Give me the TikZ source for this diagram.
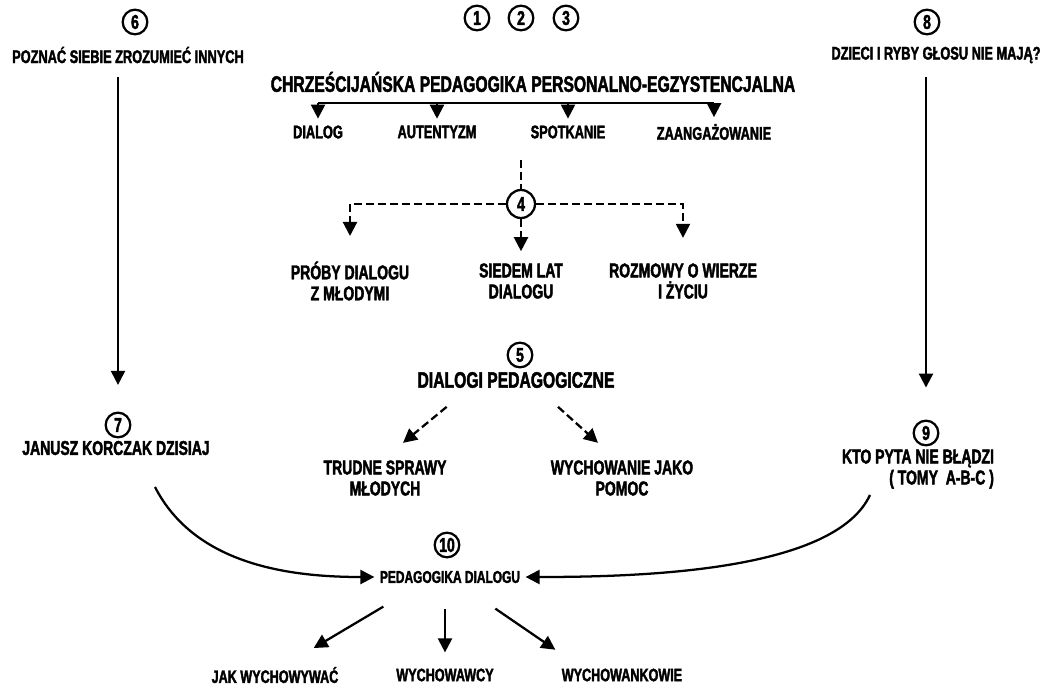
\documentclass[tikz,border=0pt]{standalone}
\usepackage{fontspec}
\setmainfont[FakeStretch=0.7,FakeBold=2]{Liberation Sans}
\usetikzlibrary{arrows.meta}

\begin{document}
\begin{tikzpicture}[x=0.75pt, y=-0.75pt, line width=1.7pt,
  num/.style={circle, draw, line width=1.7pt, minimum size=18.5pt, inner sep=0pt,
    font=\fontsize{15}{15}\selectfont\bfseries},
  big/.style={font=\fontsize{16.8}{17}\selectfont\bfseries, align=center},
  mid/.style={font=\fontsize{15}{15.75}\selectfont\bfseries, align=center},
  sml/.style={font=\fontsize{13.7}{14}\selectfont\bfseries, align=center},
  low/.style={font=\fontsize{13.5}{14}\selectfont\bfseries, align=center},
  arr/.style={-{Triangle[width=10.5pt,length=10.5pt]}},
  dsh/.style={dash pattern=on 6pt off 3pt}]
\useasboundingbox (0,0) rectangle (1046,690);

\node[num] (c1) at (477,18) {1};
\node[num] (c2) at (521,18) {2};
\node[num] (c3) at (566,18) {3};
\node[big] (title) at (533,82) {CHRZEŚCIJAŃSKA PEDAGOGIKA PERSONALNO-EGZYSTENCJALNA};
\node[sml] (dialog) at (318,132) {DIALOG};
\node[sml] (autent) at (437,132) {AUTENTYZM};
\node[sml] (spotk) at (568,132) {SPOTKANIE};
\node[sml] (zaang) at (714,132) {ZAANGAŻOWANIE};
\coordinate (bar) at (316,103);
\draw (dialog |- bar) -- (zaang |- bar);
\foreach \n in {dialog,autent,spotk,zaang}
  \draw[arr, shorten >=1pt] (\n |- bar) -- (\n.north);

\coordinate (s4) at (521,160);
\node[num, minimum size=21pt] (c4) at (521,204) {4};
\node[mid] (proby) at (350,281) {PRÓBY DIALOGU\\Z MŁODYMI};
\node[mid] (siedem) at (521,281) {SIEDEM LAT\\DIALOGU};
\node[mid] (rozm) at (683,281) {ROZMOWY O WIERZE\\I ŻYCIU};
\draw[dsh] (s4) -- (c4);
\draw[dsh, arr, shorten >=15pt] (c4) -| (proby);
\draw[dsh, arr, shorten >=5pt] (c4) -- (siedem);
\draw[dsh, arr, shorten >=15pt] (c4) -| (rozm);

\node[num] (c5) at (520,355) {5};
\node[big] (dialogi) at (516,380) {DIALOGI PEDAGOGICZNE};
\node[mid] (trudne) at (385,478) {TRUDNE SPRAWY\\MŁODYCH};
\node[mid] (wych) at (622,478) {WYCHOWANIE JAKO\\POMOC};
\draw[dsh, arr] ([xshift=-52pt,yshift=-10pt]dialogi.south) -- ([xshift=13.5pt,yshift=9pt]trudne.north);
\draw[dsh, arr] ([xshift=31.5pt,yshift=-10pt]dialogi.south) -- ([xshift=-18pt,yshift=9pt]wych.north);

\node[num] (c6) at (135,22) {6};
\node[sml] (poznac) at (128,55) {POZNAĆ SIEBIE ZROZUMIEĆ INNYCH};
\node[num] (c7) at (118,425) {7};
\node[mid] (janusz) at (116,448) {JANUSZ KORCZAK DZISIAJ};
\draw[arr, shorten <=6pt, shorten >=20pt] (poznac.south -| c7) -- (c7.north);

\node[num] (c8) at (927,22) {8};
\node[sml] (dzieci) at (936,55) {DZIECI I RYBY GŁOSU NIE MAJĄ?};
\node[num] (c9) at (926,433) {9};
\node[mid, align=right] (kto) at (918,469) {KTO PYTA NIE BŁĄDZI\\( TOMY\ \ A-B-C )};
\draw[arr, shorten <=6pt, shorten >=24pt] (dzieci.south -| c9) -- (c9.north);

\node[num] (c10) at (447,545) {10};
\node[low, font=\fontsize{12.8}{14}\selectfont\bfseries] (ped) at (450,577) {PEDAGOGIKA DIALOGU};
\coordinate (k7) at (155,487);
\coordinate (k9) at (870,495);
\draw[arr] (k7) .. controls (195,565) and (290,577) .. (ped.west);
\draw[arr] (k9) .. controls (835,570) and (650,577) .. (ped.east);

\node[low] (jak) at (275,675) {JAK WYCHOWYWAĆ};
\node[low] (wcy) at (445,675) {WYCHOWAWCY};
\node[low] (wki) at (622,675) {WYCHOWANKOWIE};
\draw[arr] ([xshift=-50pt,yshift=-13.5pt]ped.south) -- ([xshift=29pt,yshift=10pt]jak.north);
\draw[arr, shorten <=15pt, shorten >=8pt] (ped.south -| wcy) -- (wcy.north);
\draw[arr] ([xshift=34pt,yshift=-15pt]ped.south) -- ([xshift=-50pt,yshift=10pt]wki.north);
\end{tikzpicture}
\end{document}
